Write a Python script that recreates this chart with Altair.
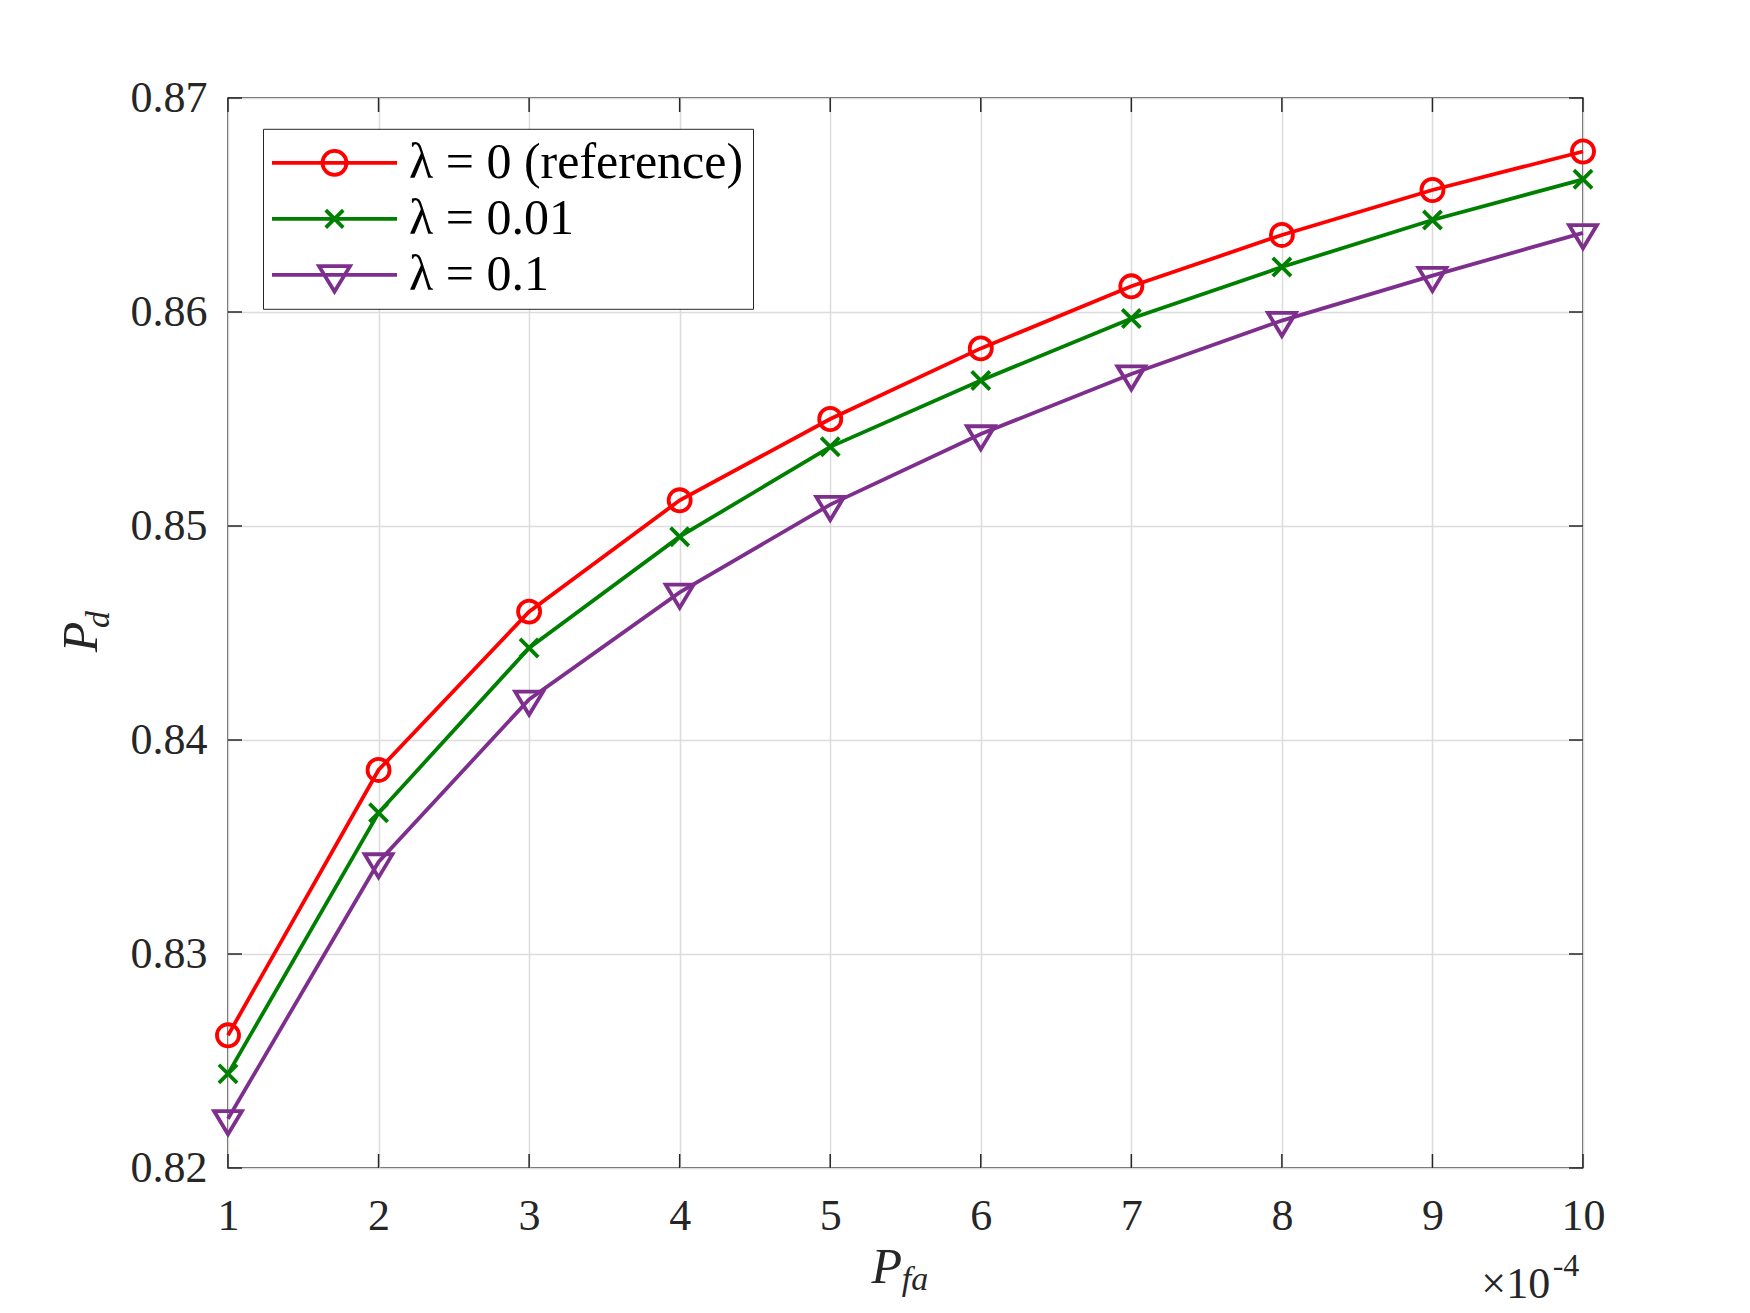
import altair as alt
import pandas as pd

# ---------------- data ----------------
X_VALUES = [1, 2, 3, 4, 5, 6, 7, 8, 9, 10]
SERIES = ["λ = 0 (reference)", "λ = 0.01", "λ = 0.1"]
PD_REF = [0.8262, 0.8386, 0.8460, 0.8512, 0.8550, 0.8583, 0.8612, 0.8636, 0.8657, 0.8675]
PD_001 = [0.8244, 0.8366, 0.8443, 0.8495, 0.8537, 0.8568, 0.8597, 0.8621, 0.8643, 0.8662]
PD_01 = [0.8223, 0.8343, 0.8419, 0.8469, 0.8510, 0.8543, 0.8571, 0.8596, 0.8617, 0.8637]
X_TICKS = [1, 2, 3, 4, 5, 6, 7, 8, 9, 10]
Y_TICKS = [0.82, 0.83, 0.84, 0.85, 0.86, 0.87]
COLORS = ["#ff0000", "#008000", "#7e2f8e"]

rows = []
for name, vals in zip(SERIES, [PD_REF, PD_001, PD_01]):
    for xv, yv in zip(X_VALUES, vals):
        rows.append({"pfa": xv, "pd": yv, "series": name})
df = pd.DataFrame(rows)
xt = pd.DataFrame({"t": X_TICKS})
yt = pd.DataFrame({"v": Y_TICKS})

W, H = 1355, 1070
TICK = 14
FONT = "Liberation Serif, Times New Roman, Times, serif"
INK = "#262626"
LW = 3.8

# marker glyphs (plot)
CIRCLE = "M1.03,0A1.03,1.03 0 1,1 -1.03,0A1.03,1.03 0 1,1 1.03,0Z"
XMARK = "M-0.85,-0.85L0.85,0.85M-0.85,0.85L0.85,-0.85"
TRI = "M-1.3,-0.72L1.3,-0.72L0,1.44Z"
GLYPHS = [CIRCLE, XMARK, TRI]

# legend glyphs (line + marker)
L_CIRCLE = "M-2,0H8M3.96,0A0.96,0.96 0 1,1 2.04,0A0.96,0.96 0 1,1 3.96,0Z"
L_XMARK = "M-2,0H8M2.3,-0.7L3.7,0.7M2.3,0.7L3.7,-0.7"
L_TRI = "M-2,0H8M1.76,-0.69L4.24,-0.69L3.0,1.34Z"
LEGEND_GLYPHS = [L_CIRCLE, L_XMARK, L_TRI]

xscale = alt.Scale(domain=[1, 10], nice=False, zero=False)
yscale = alt.Scale(domain=[0.82, 0.87], nice=False, zero=False)
color_scale = alt.Scale(domain=SERIES, range=COLORS)

legend = alt.Legend(
    title=None,
    orient="none",
    legendX=35,
    legendY=30.8,
    padding=9,
    labelFont=FONT,
    labelFontSize=50,
    labelColor="black",
    labelLimit=2000,
    labelOffset=87,
    labelExpr="datum.label + ' '",
    rowPadding=6,
    symbolSize=625,
    symbolStrokeWidth=LW,
    symbolFillColor="transparent",
    symbolOpacity=1,
    strokeColor=INK,
    fillColor="white",
)

x_axis = alt.Axis(
    values=X_TICKS, format="d", title=None, ticks=False, domain=False,
    grid=True, gridColor="#dcdcdc", gridWidth=1.5,
    labelFont=FONT, labelFontSize=44, labelColor=INK, labelPadding=26,
    labelFlush=False,
)
y_axis = alt.Axis(
    values=Y_TICKS, format=".2f", title=None, ticks=False, domain=False,
    grid=True, gridColor="#dcdcdc", gridWidth=1.5,
    labelFont=FONT, labelFontSize=44, labelColor=INK, labelPadding=21,
    labelFlush=False,
)

base = alt.Chart(df)
X = alt.X("pfa:Q", scale=xscale, axis=x_axis)
Y = alt.Y("pd:Q", scale=yscale, axis=y_axis)
C = alt.Color("series:N", scale=color_scale, legend=legend)

lines = base.mark_line(strokeWidth=LW).encode(x=X, y=Y, color=C)

marker_layers = [
    base.transform_filter(alt.datum.series == name)
    .mark_point(filled=False, shape=glyph, size=460, strokeWidth=LW, opacity=1)
    .encode(x=X, y=Y, color=C)
    for name, glyph in zip(SERIES, GLYPHS)
]

# legend-only layer (no rows drawn; entries come from the scale domain)
legend_layer = base.transform_filter("false").mark_point(
    filled=False, strokeWidth=LW, opacity=1
).encode(
    x=X, y=Y, color=C,
    shape=alt.Shape("series:N", scale=alt.Scale(domain=SERIES, range=LEGEND_GLYPHS), legend=legend),
)

# inward ticks on all four sides
tick_style = dict(color=INK, strokeWidth=1.5)
YT = alt.Y("v:Q", scale=yscale, axis=y_axis)
XT = alt.X("t:Q", scale=xscale, axis=x_axis)
ytick_left = alt.Chart(yt).mark_rule(**tick_style).encode(
    y=YT, x=alt.value(0), x2=alt.value(TICK))
ytick_right = alt.Chart(yt).mark_rule(**tick_style).encode(
    y=YT, x=alt.value(W - TICK), x2=alt.value(W))
xtick_bottom = alt.Chart(xt).mark_rule(**tick_style).encode(
    x=XT, y=alt.value(H - TICK), y2=alt.value(H))
xtick_top = alt.Chart(xt).mark_rule(**tick_style).encode(
    x=XT, y=alt.value(0), y2=alt.value(TICK))

one = alt.Data(values=[{}])


def label(text, x, y, size, italic=False, angle=0, align="center", baseline="middle"):
    kw = dict(text=text, font=FONT, fontSize=size, color=INK, align=align, baseline=baseline)
    if italic:
        kw["fontStyle"] = "italic"
    if angle:
        kw["angle"] = angle
    return alt.Chart(one).mark_text(**kw).encode(x=alt.value(x), y=alt.value(y))


titles = [
    label("P", -145.8, 539, 50, italic=True, angle=270),
    label("d", -128.8, 521.5, 34, italic=True, angle=270),
    label("P", 658.7, 1184.5, 50, italic=True, baseline="alphabetic"),
    label("fa", 673.7, 1191.5, 34, italic=True, align="left", baseline="alphabetic"),
    label("×10", 1322.2, 1199.5, 44, align="right", baseline="alphabetic"),
    label("-4", 1324.7, 1178.2, 32, align="left", baseline="alphabetic"),
]

chart = alt.layer(
    ytick_left, ytick_right, xtick_bottom, xtick_top, lines, *marker_layers,
    legend_layer, *titles
).properties(
    width=W,
    height=H,
    padding={"left": 220, "top": 90, "right": 150, "bottom": 142},
    autosize=alt.AutoSizeParams(type="none"),
    background="white",
).configure_view(
    stroke=INK, strokeWidth=1.5
)

chart.save("out.html", embed_options={"renderer": "svg", "actions": False})
